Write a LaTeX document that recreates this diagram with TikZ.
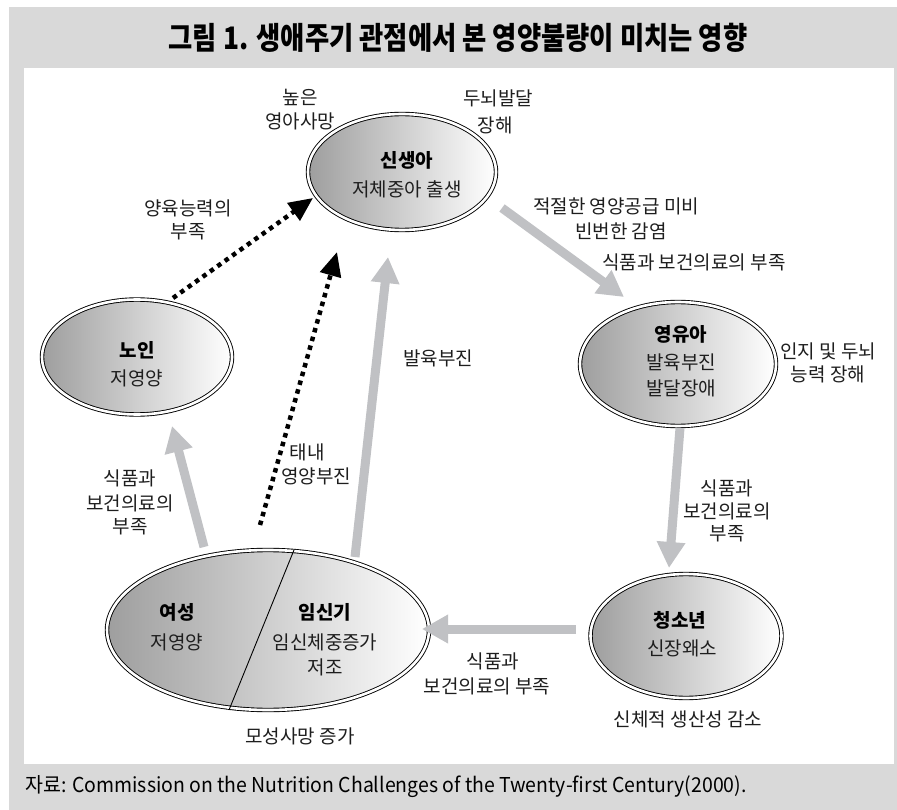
\documentclass[tikz,border=0pt]{standalone}
\usepackage{fontspec}
\setmainfont{Noto Sans CJK KR}
\newfontfamily\titlefont[FakeStretch=0.85]{Noto Sans CJK KR}
\newfontfamily\captfont[FakeStretch=0.95]{Noto Sans CJK KR}
\usetikzlibrary{arrows.meta,shapes.geometric}
\definecolor{framegray}{RGB}{217,217,217}
\definecolor{arrowgray}{RGB}{192,193,196}
\definecolor{txt}{RGB}{30,30,30}
\tikzset{
  ell/.style={ellipse, draw=black, line width=0.9pt, double=white, double distance=2.6pt,
    left color=black!38, right color=white, inner sep=0pt},
  lbl/.style={font=\fontsize{19}{22}\selectfont, text=txt, inner sep=0pt, anchor=center},
  hd/.style={font=\fontsize{19}{22}\selectfont\bfseries, text=black, inner sep=0pt, anchor=center},
  garrow/.style={draw=arrowgray, line width=9pt, -{Triangle[width=27pt,length=26pt]}},
  darrow/.style={draw=black, line width=4.5pt, dash pattern=on 4.5pt off 4.6pt,
    -{Triangle[width=21pt,length=24pt]}},
}
\begin{document}
\begin{tikzpicture}[x=1pt,y=-1pt]
\useasboundingbox (0,0) rectangle (897,810);
\fill[white] (0,0) rectangle (897,810);
\fill[framegray] (9,7) rectangle (897,810);
\fill[white] (24,68) rectangle (894,764);

\node[inner sep=0pt] (title) at (458,38) {\titlefont\bfseries\fontsize{31}{31}\selectfont 그림 1. 생애주기 관점에서 본 영양불량이 미치는 영향};
\node[inner sep=0pt, anchor=west] (capt) at (25,787) {\captfont\fontsize{20.5}{22}\selectfont 자료: Commission on the Nutrition Challenges of the Twenty-first Century(2000).};

% ellipses
\node[ell, minimum width=188pt, minimum height=116pt] (newborn) at (402,172) {};
\node[ell, minimum width=190pt, minimum height=115pt] (elder) at (137,357) {};
\node[ell, minimum width=196pt, minimum height=124pt] (infant) at (678,364) {};
\node[ell, minimum width=191pt, minimum height=124pt] (teen) at (686,636) {};
\node[ell, minimum width=322pt, minimum height=160pt] (woman) at (268,630) {};
\coordinate (divtop) at (294,550);
\coordinate (divbot) at (229,710);
\draw[line width=0.9pt] (divtop) -- (divbot);

% texts in ellipses
\node[hd] (t1) at (407,160) {신생아};
\node[lbl] (t2) at (407,189) {저체중아 출생};
\node[hd] (t3) at (137,350) {노인};
\node[lbl] (t4) at (137,378) {저영양};
\node[hd] (t5) at (681,334) {영유아};
\node[lbl] (t6) at (681,362) {발육부진};
\node[lbl] (t7) at (681,388) {발달장애};
\node[hd] (t8) at (680,620) {청소년};
\node[lbl] (t9) at (682,648) {신장왜소};
\node[hd] (t10) at (177,612) {여성};
\node[lbl] (t11) at (177,642) {저영양};
\node[hd] (t12) at (325,612) {임신기};
\node[lbl] (t13) at (325,642) {임신체중증가};
\node[lbl] (t14) at (325,667) {저조};

% outside labels
\node[lbl] (l1) at (300,97) {높은};
\node[lbl] (l2) at (300,121) {영아사망};
\node[lbl] (l3) at (498,98) {두뇌발달};
\node[lbl] (l4) at (495,125) {장해};
\node[lbl] (l5) at (188,208) {양육능력의};
\node[lbl] (l6) at (188,232) {부족};
\node[lbl, anchor=west] (l7) at (533,206) {적절한 영양공급 미비};
\node[lbl, anchor=west] (l8) at (575,231) {빈번한 감염};
\node[lbl, anchor=west] (l9) at (602,262) {식품과 보건의료의 부족};
\node[lbl] (l10) at (828,351) {인지 및 두뇌};
\node[lbl] (l11) at (828,374) {능력 장해};
\node[lbl] (l12) at (727,488) {식품과};
\node[lbl] (l13) at (727,511) {보건의료의};
\node[lbl] (l14) at (727,534) {부족};
\node[lbl] (l15) at (493,661) {식품과};
\node[lbl] (l16) at (487,686) {보건의료의 부족};
\node[lbl] (l17) at (688,719) {신체적 생산성 감소};
\node[lbl] (l18) at (300,736) {모성사망 증가};
\node[lbl] (l19) at (130,478) {식품과};
\node[lbl] (l20) at (130,503) {보건의료의};
\node[lbl] (l21) at (130,527) {부족};
\node[lbl] (l22) at (438,358) {발육부진};
\node[lbl] (l23) at (307,452) {태내};
\node[lbl] (l24) at (316,476) {영양부진};

% arrow end points
\coordinate (a1s) at (502,208);
\coordinate (a1e) at (624,297);
\coordinate (a2s) at (680,428);
\coordinate (a2e) at (669,568);
\coordinate (a3s) at (576,629);
\coordinate (a3e) at (422,629);
\coordinate (a4s) at (204,547);
\coordinate (a4e) at (172,426);
\coordinate (a5s) at (355,557);
\coordinate (a5e) at (388,257);
\coordinate (d1s) at (173,298);
\coordinate (d1e) at (313,198);
\coordinate (d2s) at (260,525);
\coordinate (d2e) at (337,252);

\draw[garrow] (a1s) -- (a1e);
\draw[garrow] (a2s) -- (a2e);
\draw[garrow] (a3s) -- (a3e);
\draw[garrow] (a4s) -- (a4e);
\draw[garrow] (a5s) -- (a5e);
\draw[darrow] (d1s) -- (d1e);
\draw[darrow] (d2s) -- (d2e);
\end{tikzpicture}
\end{document}
